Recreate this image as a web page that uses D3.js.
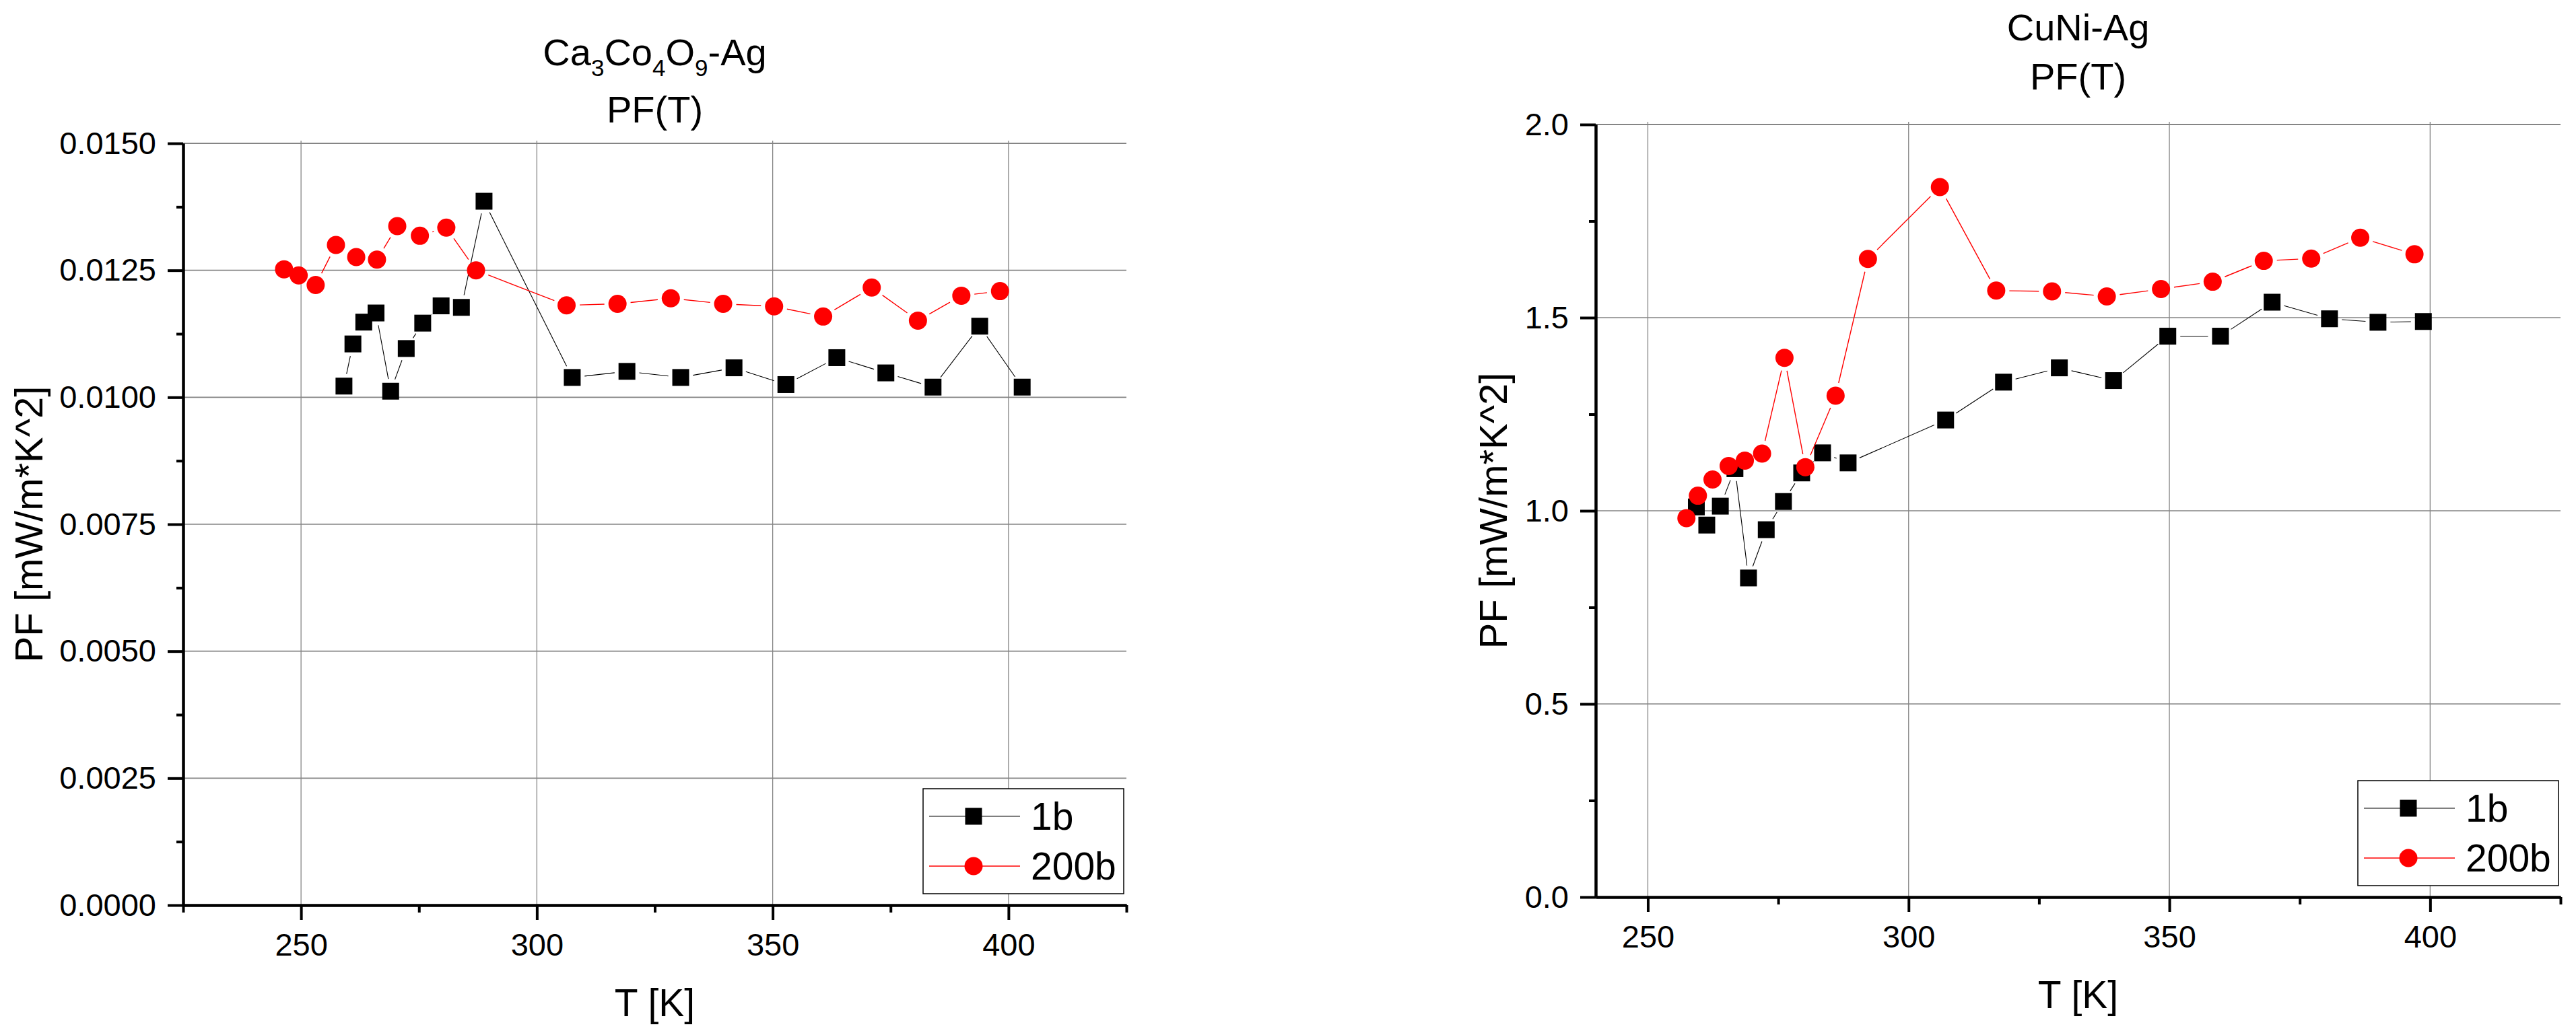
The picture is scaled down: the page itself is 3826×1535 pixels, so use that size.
<!DOCTYPE html>
<html>
<head>
<meta charset="utf-8">
<script src="https://cdn.jsdelivr.net/npm/d3@7"></script>
<style>
  body { margin: 0; background: #fff; }
  svg text { font-family: "Liberation Sans", Arial, sans-serif; fill: #000; }
</style>
</head>
<body>
<script>
// Ca3Co4O9-Ag panel
const caT1 = [259.1, 261.0, 263.3, 265.9, 269.0, 272.3, 275.8, 279.7, 284.0, 288.8, 307.5, 319.1, 330.5, 341.8, 352.8, 363.6, 374.0, 384.0, 393.9, 402.9];
const caPF1 = [0.01022, 0.01105, 0.01148, 0.01166, 0.01012, 0.01096, 0.01146, 0.01180, 0.01177, 0.01386, 0.01039, 0.01051, 0.01039, 0.01058, 0.01025, 0.01078, 0.01048, 0.01020, 0.01140, 0.01020];
const caT200 = [246.4, 249.5, 253.1, 257.4, 261.7, 266.1, 270.4, 275.2, 280.8, 287.1, 306.3, 317.1, 328.4, 339.5, 350.3, 360.7, 371.0, 380.8, 390.0, 398.2];
const caPF200 = [0.01252, 0.01240, 0.01221, 0.01300, 0.01276, 0.01271, 0.01337, 0.01318, 0.01334, 0.01250, 0.01181, 0.01184, 0.01195, 0.01184, 0.01179, 0.01159, 0.01216, 0.01151, 0.01200, 0.01209];
const caYTicks = [0, 0.0025, 0.005, 0.0075, 0.01, 0.0125, 0.015];
const caYMinor = [0.00125, 0.00375, 0.00625, 0.00875, 0.01125, 0.01375];

// CuNi-Ag panel
const cuT1 = [259.3, 261.3, 263.9, 266.7, 269.3, 272.7, 276.0, 279.5, 283.5, 288.4, 307.1, 318.2, 328.9, 339.3, 349.7, 359.8, 369.7, 380.7, 390.0, 398.7];
const cuPF1 = [1.010, 0.963, 1.012, 1.109, 0.826, 0.951, 1.024, 1.098, 1.150, 1.124, 1.235, 1.333, 1.370, 1.337, 1.452, 1.452, 1.540, 1.497, 1.488, 1.490];
const cuT200 = [257.4, 259.6, 262.4, 265.5, 268.6, 271.9, 276.2, 280.2, 286.0, 292.2, 306.0, 316.8, 327.5, 338.0, 348.4, 358.3, 368.1, 377.2, 386.6, 397.0];
const cuPF200 = [0.981, 1.039, 1.081, 1.116, 1.130, 1.148, 1.396, 1.113, 1.298, 1.652, 1.838, 1.570, 1.568, 1.555, 1.574, 1.593, 1.647, 1.653, 1.707, 1.664];
const cuYTicks = [0, 0.5, 1.0, 1.5, 2.0];
const cuYMinor = [0.25, 0.75, 1.25, 1.75];

const xTicks = [250, 300, 350, 400];
const seriesNames = ['1b', '200b'];

const GRID = '#858585';
const SQUARE = 25, RADIUS = 13.5, GAP = 6;

const svg = d3.select('body').append('svg')
  .attr('width', 3826)
  .attr('height', 1535);

function drawPanel(p) {
  const x = d3.scaleLinear().domain(p.xDomain).range([p.left, p.right]);
  const y = d3.scaleLinear().domain([0, p.yTicks[p.yTicks.length - 1]]).range([p.bottom, p.top]);
  const g = svg.append('g');

  // grid
  g.append('g').selectAll('line')
    .data(p.yTicks.slice(1))
    .enter().append('line')
    .attr('x1', p.left).attr('x2', p.right)
    .attr('y1', d => y(d)).attr('y2', d => y(d))
    .attr('stroke', GRID)
    .attr('stroke-width', (d, i) => i === p.yTicks.length - 2 ? 2.2 : 1.6);
  g.append('g').selectAll('line')
    .data(xTicks)
    .enter().append('line')
    .attr('x1', d => x(d)).attr('x2', d => x(d))
    .attr('y1', p.top - 4).attr('y2', p.bottom)
    .attr('stroke', GRID)
    .attr('stroke-width', 1.3);

  // axes
  const styleAxis = sel => {
    sel.attr('font-size', 47).attr('font-family', '"Liberation Sans", Arial, sans-serif');
    sel.selectAll('path, line').attr('stroke', '#000').attr('stroke-width', 4);
  };
  g.append('g')
    .attr('transform', `translate(${p.left},0)`)
    .call(d3.axisLeft(y).tickValues(p.yMinor).tickSize(10).tickSizeOuter(0).tickFormat(''))
    .call(styleAxis);
  g.append('g')
    .attr('transform', `translate(0,${p.bottom})`)
    .call(d3.axisBottom(x).tickValues(p.xMinor).tickSize(11).tickSizeOuter(0).tickFormat(''))
    .call(styleAxis);
  g.append('g')
    .attr('transform', `translate(${p.left},0)`)
    .call(d3.axisLeft(y).tickValues(p.yTicks).tickSize(23).tickPadding(17).tickSizeOuter(0).tickFormat(d3.format(p.yFormat)))
    .call(styleAxis);
  g.append('g')
    .attr('transform', `translate(0,${p.bottom})`)
    .call(d3.axisBottom(x).tickValues(xTicks).tickSize(22).tickPadding(20).tickSizeOuter(0))
    .call(styleAxis);

  // series: Origin style lines with gaps at the markers
  const series = [
    { t: p.t1, v: p.v1, color: '#000', width: 1.1, shape: 'square', trim: SQUARE / 2 + GAP },
    { t: p.t200, v: p.v200, color: '#ff0000', width: 1.4, shape: 'circle', trim: RADIUS + GAP }
  ];
  series.forEach(s => {
    const pts = s.t.map((t, i) => [x(t), y(s.v[i])]);
    const segs = [];
    for (let i = 0; i < pts.length - 1; i++) {
      const [x0, y0] = pts[i], [x1, y1] = pts[i + 1];
      const len = Math.hypot(x1 - x0, y1 - y0);
      if (len <= 2 * s.trim) continue;
      const ux = (x1 - x0) / len, uy = (y1 - y0) / len;
      segs.push([x0 + ux * s.trim, y0 + uy * s.trim, x1 - ux * s.trim, y1 - uy * s.trim]);
    }
    g.append('g').selectAll('line')
      .data(segs)
      .enter().append('line')
      .attr('x1', d => d[0]).attr('y1', d => d[1])
      .attr('x2', d => d[2]).attr('y2', d => d[3])
      .attr('stroke', s.color)
      .attr('stroke-width', s.width);
    const m = g.append('g').selectAll(s.shape === 'square' ? 'rect' : 'circle')
      .data(pts)
      .enter();
    if (s.shape === 'square') {
      m.append('rect')
        .attr('x', d => d[0] - SQUARE / 2).attr('y', d => d[1] - SQUARE / 2)
        .attr('width', SQUARE).attr('height', SQUARE)
        .attr('fill', s.color);
    } else {
      m.append('circle')
        .attr('cx', d => d[0]).attr('cy', d => d[1])
        .attr('r', RADIUS)
        .attr('fill', s.color);
    }
  });

  // titles
  const cx = (p.left + p.right) / 2;
  const t1 = g.append('text')
    .attr('x', cx).attr('y', p.titleY)
    .attr('text-anchor', 'middle')
    .attr('font-size', 56);
  p.title.forEach(part => {
    if (part.sub) {
      t1.append('tspan').attr('font-size', 35).attr('dy', 16).text(part.text);
    } else {
      t1.append('tspan').attr('dy', part.after ? -16 : 0).text(part.text);
    }
  });
  g.append('text')
    .attr('x', cx).attr('y', p.titleY + p.titleGap)
    .attr('text-anchor', 'middle')
    .attr('font-size', 56)
    .text('PF(T)');

  g.append('text')
    .attr('x', cx).attr('y', p.bottom + 165)
    .attr('text-anchor', 'middle')
    .attr('font-size', 57)
    .text('T [K]');
  g.append('text')
    .attr('transform', `translate(${p.yLabelX},${(p.top + p.bottom) / 2}) rotate(-90)`)
    .attr('text-anchor', 'middle')
    .attr('font-size', 58)
    .text('PF [mW/m*K^2]');

  // legend
  const lg = g.append('g').attr('transform', `translate(${p.legendX},${p.bottom - 173})`);
  lg.append('rect')
    .attr('width', 298).attr('height', 156)
    .attr('fill', '#fff').attr('stroke', '#000').attr('stroke-width', 1.5);
  series.forEach((s, i) => {
    const ry = 41 + i * 74;
    lg.append('line')
      .attr('x1', 9).attr('x2', 144).attr('y1', ry).attr('y2', ry)
      .attr('stroke', s.color).attr('stroke-width', s.width);
    if (s.shape === 'square') {
      lg.append('rect')
        .attr('x', 75 - SQUARE / 2).attr('y', ry - SQUARE / 2)
        .attr('width', SQUARE).attr('height', SQUARE)
        .attr('fill', s.color);
    } else {
      lg.append('circle').attr('cx', 75).attr('cy', ry).attr('r', RADIUS).attr('fill', s.color);
    }
    lg.append('text')
      .attr('x', 160).attr('y', ry + 20)
      .attr('font-size', 57)
      .text(seriesNames[i]);
  });
}

drawPanel({
  left: 272, right: 1673, top: 213, bottom: 1345,
  xDomain: [225, 425], xMinor: [225, 275, 325, 375, 425],
  yTicks: caYTicks, yMinor: caYMinor, yFormat: '.4f',
  t1: caT1, v1: caPF1, t200: caT200, v200: caPF200,
  title: [{ text: 'Ca' }, { text: '3', sub: true }, { text: 'Co', after: true }, { text: '4', sub: true },
    { text: 'O', after: true }, { text: '9', sub: true }, { text: '-Ag', after: true }],
  titleY: 97, titleGap: 85, yLabelX: 63, legendX: 1371
});

drawPanel({
  left: 2370, right: 3803, top: 185, bottom: 1333,
  xDomain: [240, 425], xMinor: [275, 325, 375, 425],
  yTicks: cuYTicks, yMinor: cuYMinor, yFormat: '.1f',
  t1: cuT1, v1: cuPF1, t200: cuT200, v200: cuPF200,
  title: [{ text: 'CuNi-Ag' }],
  titleY: 60, titleGap: 73, yLabelX: 2238, legendX: 3502
});
</script>
</body>
</html>
